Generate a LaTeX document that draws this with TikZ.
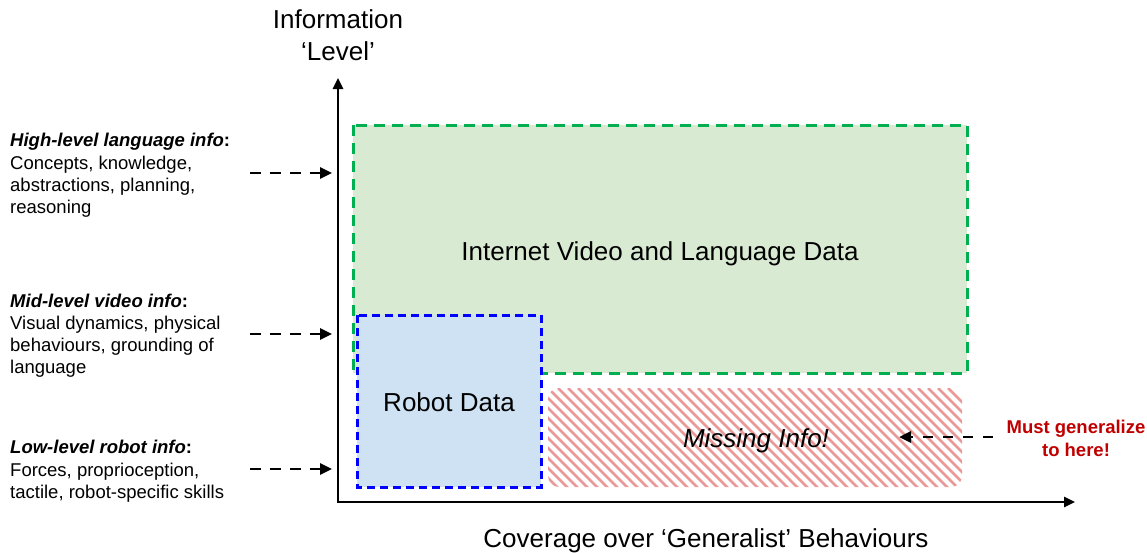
\documentclass[tikz,border=0pt]{standalone}
\usepackage{fontspec}
\setmainfont{Liberation Sans}
\usetikzlibrary{arrows.meta}
\definecolor{gline}{HTML}{00B050}
\definecolor{gfill}{HTML}{D9EAD3}
\definecolor{bline}{HTML}{0000FF}
\definecolor{bfill}{HTML}{CFE2F3}
\definecolor{hatchred}{HTML}{EA9999}
\definecolor{mustred}{HTML}{C00000}
\tikzset{
  bigtext/.style={font=\fontsize{26}{30}\selectfont, inner sep=0pt, anchor=base},
  smalltext/.style={font=\fontsize{18.5}{22}\selectfont, inner sep=0pt, anchor=base west},
  musttext/.style={font=\fontsize{18.5}{22}\selectfont\bfseries, text=mustred, inner sep=0pt, anchor=base},
  axisline/.style={line width=2.5pt, line join=miter, {Triangle[length=11pt,width=10pt]}-{Triangle[length=11pt,width=10pt]}},
  pointer/.style={line width=2.7pt, dash pattern=on 10.5pt off 9.5pt, -{Triangle[length=12pt,width=11pt]}},
  greenbox/.style={draw=gline, fill=gfill, line width=3pt, dash pattern=on 11pt off 7pt},
  bluebox/.style={draw=bline, fill=bfill, line width=3pt, dash pattern=on 8pt off 5pt},
  hatchline/.style={draw=hatchred, line width=2.6pt},
}
\begin{document}
\begin{tikzpicture}[x=1pt,y=-1pt]
\useasboundingbox (0,0) rectangle (1147,552);

% data regions
\draw[greenbox] (353,125) rectangle (967,373);
\draw[bluebox] (357,315) rectangle (541,487);
\begin{scope}
  \clip[rounded corners=11pt] (548,388) rectangle (962,487);
  \foreach \i in {448,458,...,968} {
    \draw[hatchline] (\i,388) -- ++(100,100);
  }
\end{scope}
\coordinate (missing) at (899,437);

% region labels
\node[bigtext] (inet) at (660,260) {Internet Video and Language Data};
\node[bigtext] (robot) at (449,411) {Robot Data};
\node[bigtext, font=\fontsize{26}{30}\selectfont\itshape] (miss) at (756,447) {Missing Info!};

% axes
\coordinate (ytop) at (338,78);
\coordinate (origin) at (338,502);
\coordinate (xend) at (1075,502);
\draw[axisline] (ytop) -- (origin) -- (xend);
\node[bigtext] (ylab1) at (338,28) {Information};
\node[bigtext] (ylab2) at (338,60) {‘Level’};
\node[bigtext] (xlab) at (706,547) {Coverage over ‘Generalist’ Behaviours};

% left descriptions
\node[smalltext] (hi0) at (10,146) {{\bfseries\itshape High-level language info}\textbf{:}};
\node[smalltext] (hi1) at (10,169) {Concepts, knowledge,};
\node[smalltext] (hi2) at (10,191) {abstractions, planning,};
\node[smalltext] (hi3) at (10,213) {reasoning};

\node[smalltext] (mi0) at (10,307) {{\bfseries\itshape Mid-level video info}\textbf{:}};
\node[smalltext] (mi1) at (10,329) {Visual dynamics, physical};
\node[smalltext] (mi2) at (10,351) {behaviours, grounding of};
\node[smalltext] (mi3) at (10,373) {language};

\node[smalltext] (lo0) at (10,453) {{\bfseries\itshape Low-level robot info}\textbf{:}};
\node[smalltext] (lo1) at (10,476) {Forces, proprioception,};
\node[smalltext] (lo2) at (10,498) {tactile, robot-specific skills};

% left pointers
\coordinate (hiA) at (250,173); \coordinate (hiB) at (332,173);
\coordinate (miA) at (250,334); \coordinate (miB) at (332,334);
\coordinate (loA) at (250,469); \coordinate (loB) at (332,469);
\draw[pointer] (hiA) -- (hiB);
\draw[pointer] (miA) -- (miB);
\draw[pointer] (loA) -- (loB);

% right note
\node[musttext] (must1) at (1076,433) {Must generalize};
\node[musttext] (must2) at (1076,456) {to here!};
\coordinate (mustA) at (993,437);
\draw[pointer] (mustA) -- (missing);
\end{tikzpicture}
\end{document}
